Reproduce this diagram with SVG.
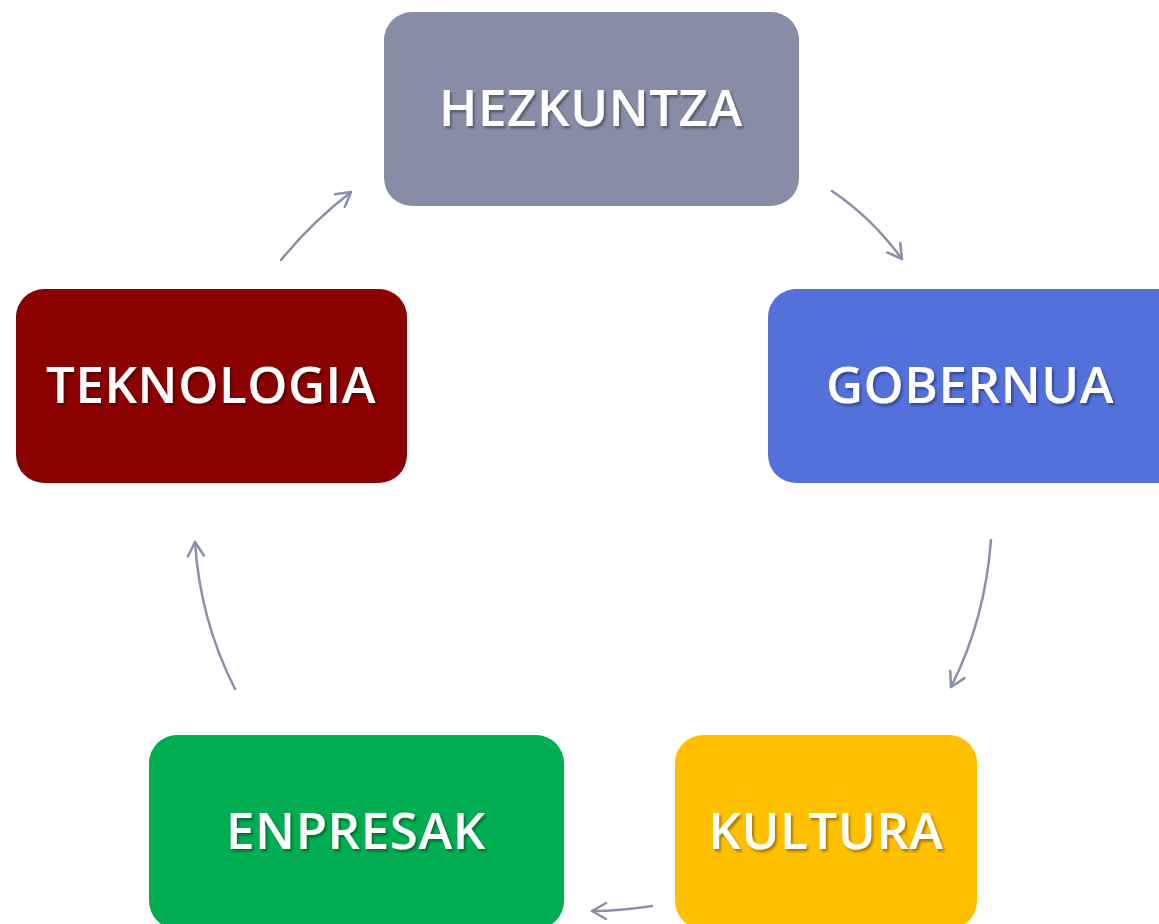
<svg xmlns="http://www.w3.org/2000/svg" width="1159" height="924" viewBox="0 0 1159 924">
<defs>
<style>
.lbl{font-family:"Open Sans","Noto Sans","Liberation Sans",sans-serif;font-weight:600;font-size:51px;letter-spacing:0.6px;fill:#ffffff;text-anchor:middle;dominant-baseline:central;filter:url(#sh)}
.con{fill:none;stroke:#8A8FAA;stroke-width:2.5;stroke-linecap:round;marker-end:url(#ah)}
</style>
<filter id="sh" x="-10%" y="-30%" width="120%" height="160%">
<feDropShadow dx="2" dy="2.5" stdDeviation="1.3" flood-color="#000000" flood-opacity="0.35"/>
</filter>
<marker id="ah" viewBox="0 0 20 20" refX="17" refY="10" markerWidth="20" markerHeight="20" markerUnits="userSpaceOnUse" orient="auto">
<path d="M3,2 L17,10 L3,18" fill="none" stroke="#8A8FAA" stroke-width="2.5" stroke-linecap="round" stroke-linejoin="round"/>
</marker>
</defs>
<rect width="1159" height="924" fill="#ffffff"/>
<g id="connectors">
<path class="con" d="M281,260 Q312,222 351,192"/>
<path class="con" d="M832,191 Q872,218 902,259"/>
<path class="con" d="M991,540 Q985,620 951,687"/>
<path class="con" d="M652,906 Q620,911 592,911"/>
<path class="con" d="M235,689 Q200,620 195,542"/>
</g>
<g id="hezkuntza">
<rect x="384" y="12" width="415" height="194" rx="28" fill="#888DA7"/>
<text class="lbl" x="591" y="106">HEZKUNTZA</text>
</g>
<g id="gobernua">
<rect x="768" y="289" width="420" height="194" rx="28" fill="#5370DB"/>
<text class="lbl" x="970" y="383">GOBERNUA</text>
</g>
<g id="teknologia">
<rect x="16" y="289" width="391" height="194" rx="28" fill="#8B0000"/>
<text class="lbl" x="211" y="383">TEKNOLOGIA</text>
</g>
<g id="enpresak">
<rect x="149" y="735" width="415" height="194" rx="28" fill="#00AD50"/>
<text class="lbl" x="356" y="829">ENPRESAK</text>
</g>
<g id="kultura">
<rect x="675" y="735" width="302" height="194" rx="28" fill="#FFC000"/>
<text class="lbl" x="826" y="829">KULTURA</text>
</g>
</svg>
